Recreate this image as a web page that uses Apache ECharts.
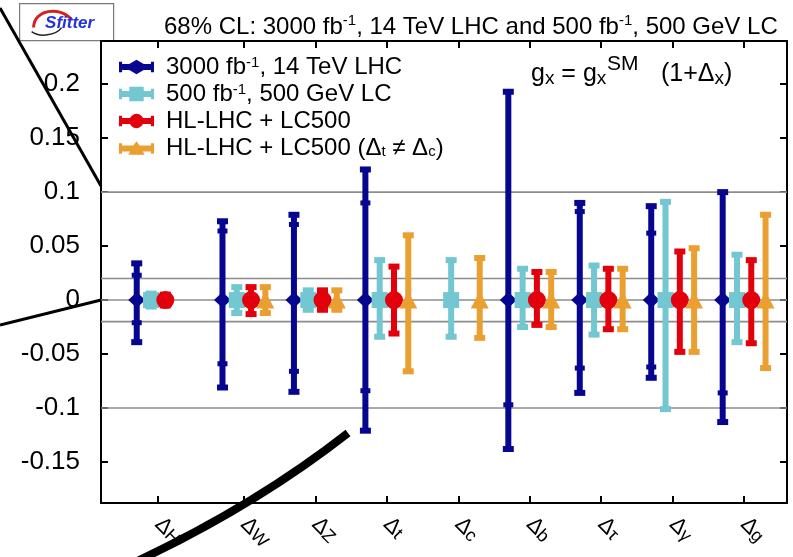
<!DOCTYPE html>
<html><head><meta charset="utf-8">
<script src="https://cdn.jsdelivr.net/npm/echarts@6/dist/echarts.min.js"></script>
<style>html,body{margin:0;padding:0;background:#fff}#c{width:793px;height:557px}</style>
</head><body><div id="c"></div>
<script>
// ---- data ----
const categories = ['H', 'W', 'Z', 't', 'c', 'b', 'τ', 'γ', 'g'];
const catPos = [0, 1.2, 2.2, 3.2, 4.2, 5.2, 6.2, 7.2, 8.2];
const yTicks = [-0.15, -0.1, -0.05, 0, 0.05, 0.1, 0.15, 0.2];
const refLines = [0.1, 0.02, 0, -0.02, -0.1];
const seriesNames = ['lhc', 'lc', 'comb', 'free'];

// 3000 fb-1, 14 TeV LHC
const lhcCentral = [0, 0, 0, 0, null, 0, 0, 0, 0];
const lhcHi   = [0.034, 0.073, 0.079, 0.121, null, 0.193, 0.090, 0.087, 0.100];
const lhcHiIn = [0.023, 0.064, 0.070, 0.090, null, null, 0.082, 0.062, null];
const lhcLoIn = [-0.021, -0.059, -0.066, -0.084, null, -0.097, -0.063, -0.062, -0.086];
const lhcLo   = [-0.039, -0.081, -0.085, -0.121, null, -0.138, -0.086, -0.072, -0.113];
// 500 fb-1, 500 GeV LC
const lcCentral = [0, 0, 0, 0, 0, 0, 0, 0, 0];
const lcHi = [0.006, 0.012, 0.009, 0.037, 0.037, 0.029, 0.032, 0.091, 0.042];
const lcLo = [-0.006, -0.012, -0.009, -0.034, -0.034, -0.025, -0.032, -0.101, -0.039];
// HL-LHC + LC500
const combCentral = [0, 0, 0, 0, null, 0, 0, 0, 0];
const combHi = [0.005, 0.012, 0.009, 0.031, null, 0.026, 0.029, 0.045, 0.037];
const combLo = [-0.005, -0.013, -0.009, -0.031, null, -0.023, -0.027, -0.048, -0.040];
// HL-LHC + LC500 (Δt ≠ Δc)
const freeCentral = [null, 0, 0, 0, 0, 0, 0, 0, 0];
const freeHi = [null, 0.012, 0.009, 0.060, 0.039, 0.026, 0.029, 0.048, 0.079];
const freeLo = [null, -0.012, -0.009, -0.066, -0.035, -0.025, -0.027, -0.048, -0.063];

// ---- styling ----
const FONT = '"Liberation Sans", Arial, Helvetica, sans-serif';
const colors = ['#06068f', '#72c7d1', '#e2000c', '#eaa031'];
const offsets = [-0.3, -0.1, 0.1, 0.3];
const symbols = ['diamond', 'rect', 'circle', 'triangle'];
const symSizes = [[17, 16], [16, 16], [18, 18], [18, 17]];
const legendIcons = [
  'path://M0,2H3V4H10L17,0L24,4H31V2H34V12H31V10H24L17,14L10,10H3V12H0Z',
  'path://M0,2H3V4H10V0H24V4H31V2H34V12H31V10H24V14H10V10H3V12H0Z',
  'path://M0,2H3V4H10.7A7,7 0 0 1 23.3,4H31V2H34V12H31V10H23.3A7,7 0 0 1 10.7,10H3V12H0Z',
  'path://M0,2H3V4H13.9L17,0L20.1,4H31V2H34V12H31V10H23.15L25,13H9L10.85,10H3V12H0Z'
];

const groups = [
  {central: lhcCentral, hi: lhcHi, lo: lhcLo, hiIn: lhcHiIn, loIn: lhcLoIn},
  {central: lcCentral, hi: lcHi, lo: lcLo},
  {central: combCentral, hi: combHi, lo: combLo},
  {central: freeCentral, hi: freeHi, lo: freeLo}
];

function barRender(color) {
  return function (params, api) {
    const x = api.value(0);
    const lo = api.value(1), hi = api.value(2), loIn = api.value(3), hiIn = api.value(4);
    const pt = api.coord([x, hi]), pb = api.coord([x, lo]);
    const pti = api.coord([x, hiIn]), pbi = api.coord([x, loIn]);
    const cx = pt[0];
    const bw = 6, cw = 11, chh = 6, iw = 10, ih = 5;
    const kids = [
      {type: 'rect', shape: {x: cx - bw / 2, y: pt[1], width: bw, height: pb[1] - pt[1]}, style: {fill: color}},
      {type: 'rect', shape: {x: cx - cw / 2, y: pt[1] - chh / 2, width: cw, height: chh}, style: {fill: color}},
      {type: 'rect', shape: {x: cx - cw / 2, y: pb[1] - chh / 2, width: cw, height: chh}, style: {fill: color}}
    ];
    if (hiIn !== hi) kids.push({type: 'rect', shape: {x: cx - iw / 2, y: pti[1] - ih / 2, width: iw, height: ih}, style: {fill: color}});
    if (loIn !== lo) kids.push({type: 'rect', shape: {x: cx - iw / 2, y: pbi[1] - ih / 2, width: iw, height: ih}, style: {fill: color}});
    return {type: 'group', children: kids};
  };
}

const legendLabels = {
  lhc: '{t|3000 fb}{sup|-1}{t|, 14 TeV LHC}',
  lc: '{t|500 fb}{sup|-1}{t|, 500 GeV LC}',
  comb: '{t|HL-LHC + LC500}',
  free: '{t|HL-LHC + LC500 (Δ}{sub|t}{t| ≠ Δ}{sub|c}{t|)}'
};

const series = [];
// reference horizontal lines
series.push({
  type: 'custom', silent: true, z: 1, data: refLines.map(v => [0, v]),
  encode: {x: 0, y: 1},
  renderItem: function (params, api) {
    const p = api.coord([0, api.value(1)]);
    const cs = params.coordSys;
    return {type: 'line', shape: {x1: cs.x, y1: p[1], x2: cs.x + cs.width, y2: p[1]},
      style: {stroke: '#8c8c8c', lineWidth: 1.6}};
  }
});

groups.forEach((g, si) => {
  const barData = [], markData = [];
  categories.forEach((c, i) => {
    if (g.hi[i] == null) return;
    const x = catPos[i] + offsets[si];
    const hiIn = (g.hiIn && g.hiIn[i] != null) ? g.hiIn[i] : g.hi[i];
    const loIn = (g.loIn && g.loIn[i] != null) ? g.loIn[i] : g.lo[i];
    barData.push([x, g.lo[i], g.hi[i], loIn, hiIn]);
    markData.push([x, g.central[i]]);
  });
  series.push({
    name: seriesNames[si], type: 'custom', z: 3 + si * 2, data: barData,
    encode: {x: 0, y: [1, 2]}, itemStyle: {color: colors[si]},
    renderItem: barRender(colors[si])
  });
  series.push({
    name: seriesNames[si], type: 'scatter', z: 4 + si * 2, data: markData,
    symbol: symbols[si], symbolSize: symSizes[si],
    itemStyle: {color: colors[si], opacity: 1}
  });
});

const axisLineStyle = {color: '#000', width: 2};
const tickStyle = {color: '#000', width: 2};
const option = {
  animation: false,
  backgroundColor: '#fff',
  textStyle: {fontFamily: FONT},
  title: {
    text: '{t|68% CL: 3000 fb}{sup|-1}{t|, 14 TeV LHC and 500 fb}{sup|-1}{t|, 500 GeV LC}',
    left: 159, top: 8,
    textStyle: {
      fontWeight: 'normal',
      rich: {
        t: {fontFamily: FONT, fontSize: 24, fontWeight: 'normal', color: '#000', lineHeight: 28},
        sup: {fontFamily: FONT, fontSize: 15, fontWeight: 'normal', color: '#000', lineHeight: 14, verticalAlign: 'top'}
      }
    }
  },
  legend: {
    orient: 'vertical', left: 114, top: 50, itemWidth: 35, itemHeight: 16, itemGap: 3,
    selectedMode: false,
    data: seriesNames.map((n, i) => ({name: n, icon: legendIcons[i]})),
    formatter: n => legendLabels[n],
    textStyle: {
      padding: [0, 0, 0, 7],
      rich: {
        t: {fontFamily: FONT, fontSize: 24, color: '#000', lineHeight: 23},
        sup: {fontFamily: FONT, fontSize: 15, color: '#000', lineHeight: 12, verticalAlign: 'top'},
        sub: {fontFamily: FONT, fontSize: 15, color: '#000', lineHeight: 12, verticalAlign: 'bottom'}
      }
    }
  },
  grid: {left: 101, right: 6, top: 41, bottom: 54, containLabel: false},
  xAxis: [{
    type: 'value', position: 'bottom', min: -0.8, max: 8.8,
    axisLine: {onZero: false, lineStyle: axisLineStyle},
    splitLine: {show: false},
    axisTick: {inside: true, length: 7, lineStyle: tickStyle, customValues: catPos},
    axisLabel: {
      customValues: catPos, rotate: -45, margin: 18,
      formatter: v => {
        const i = catPos.findIndex(p => Math.abs(p - v) < 1e-6);
        return i < 0 ? '' : '{d|Δ}{s|' + categories[i] + '}';
      },
      rich: {
        d: {fontFamily: FONT, fontSize: 22, color: '#000', lineHeight: 22},
        s: {fontFamily: FONT, fontSize: 18, color: '#000', lineHeight: 14, verticalAlign: 'bottom'}
      }
    }
  }, {
    type: 'value', position: 'top', min: -0.8, max: 8.8,
    axisLine: {onZero: false, lineStyle: axisLineStyle},
    splitLine: {show: false},
    axisTick: {inside: true, length: 7, lineStyle: tickStyle, customValues: catPos},
    axisLabel: {show: false}
  }],
  yAxis: [{
    type: 'value', position: 'left', min: -0.188, max: 0.24,
    axisLine: {show: true, onZero: false, lineStyle: axisLineStyle},
    splitLine: {show: false},
    axisTick: {inside: true, length: 7, lineStyle: tickStyle, customValues: yTicks},
    axisLabel: {customValues: yTicks, margin: 21, fontFamily: FONT, fontSize: 26, color: '#000',
      formatter: v => String(parseFloat(v.toFixed(3)))}
  }, {
    type: 'value', position: 'right', min: -0.188, max: 0.24,
    axisLine: {show: true, onZero: false, lineStyle: axisLineStyle},
    splitLine: {show: false},
    axisTick: {inside: true, length: 7, lineStyle: tickStyle, customValues: yTicks},
    axisLabel: {show: false}
  }],
  series: series,
  graphic: [
    // formula
    {type: 'text', left: 531, top: 62, z: 50, style: {
      text: '{t|g}{sub|x}{t| = g}{sub|x}',
      rich: {
        t: {fontFamily: FONT, fontSize: 25, fill: '#000', lineHeight: 28},
        sub: {fontFamily: FONT, fontSize: 19, fill: '#000', lineHeight: 14, verticalAlign: 'bottom'}
      }}},
    {type: 'text', left: 607, top: 54, z: 50, style: {text: 'SM', fontFamily: FONT, fontSize: 21, fill: '#000'}},
    {type: 'text', left: 661, top: 62, z: 50, style: {
      text: '{t|(1+Δ}{sub|x}{t|)}',
      rich: {
        t: {fontFamily: FONT, fontSize: 25, fill: '#000', lineHeight: 28},
        sub: {fontFamily: FONT, fontSize: 19, fill: '#000', lineHeight: 14, verticalAlign: 'bottom'}
      }}},
    // logo
    {type: 'group', left: 19, top: 3, z: 60, children: [
      {type: 'rect', shape: {x: 0, y: 0, width: 94, height: 37}, style: {fill: '#fff', stroke: '#7a7a7a', lineWidth: 1.2}},
      {type: 'bezierCurve', shape: {x1: 14, y1: 24, cpx1: 14, cpy1: 6, cpx2: 40, cpy2: 2, x2: 52, y2: 16},
        style: {stroke: '#d42020', lineWidth: 3, fill: null}},
      {type: 'bezierCurve', shape: {x1: 12, y1: 28, cpx1: 20, cpy1: 34, cpx2: 36, cpy2: 32, x2: 42, y2: 24},
        style: {stroke: '#222', lineWidth: 1.5, fill: null}},
      {type: 'text', x: 50, y: 20, style: {text: 'Sfitter', fontFamily: FONT, fontStyle: 'italic', fontWeight: 'bold',
        fontSize: 17, fill: '#2233dd', align: 'center', verticalAlign: 'middle'}}
    ]},
    // annotation strokes over the figure
    {type: 'line', z: 100, shape: {x1: 0, y1: 8, x2: 101, y2: 186}, style: {stroke: '#000', lineWidth: 3}},
    {type: 'line', z: 100, shape: {x1: 0, y1: 325, x2: 101, y2: 300}, style: {stroke: '#000', lineWidth: 3}},
    {type: 'bezierCurve', z: 100, shape: {x1: 100, y1: 578, cpx1: 242, cpy1: 516, x2: 348, y2: 433},
      style: {stroke: '#000', lineWidth: 8, fill: null}}
  ]
};

const chart = echarts.init(document.getElementById('c'), null, {renderer: 'canvas'});
chart.setOption(option);
</script>
</body></html>
